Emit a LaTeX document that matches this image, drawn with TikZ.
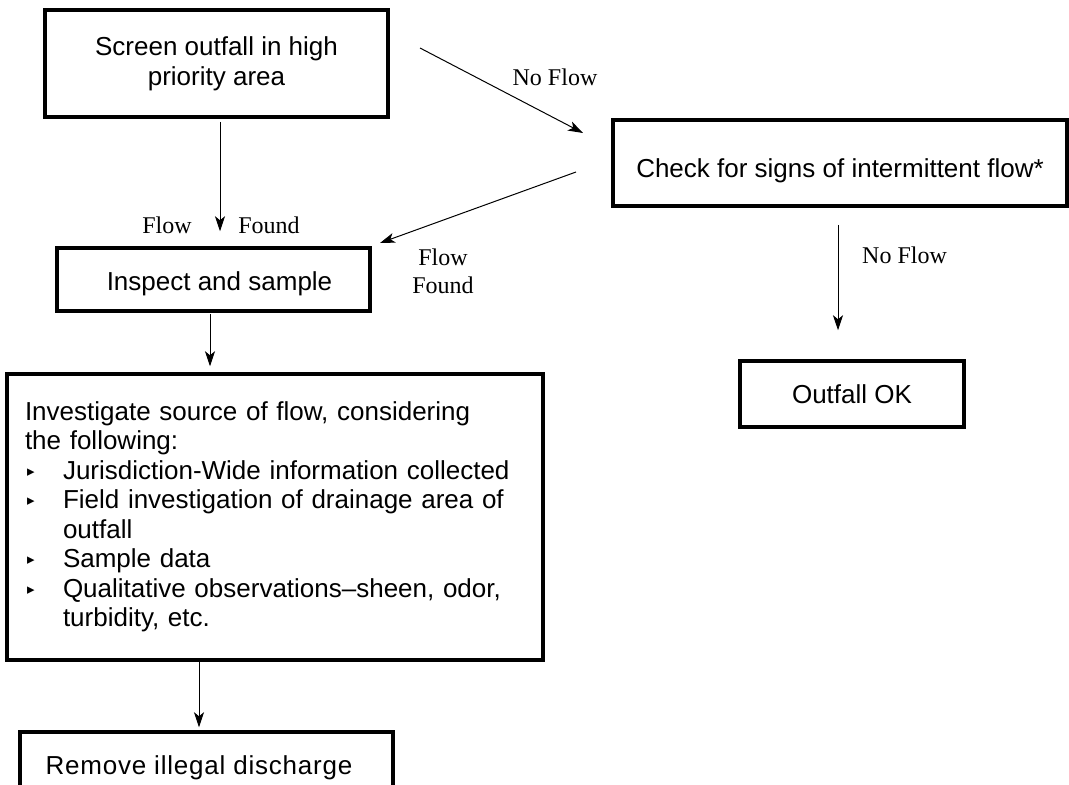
\documentclass[tikz,border=0pt]{standalone}
\usepackage{fontspec}
\setmainfont{Liberation Sans}
\newfontfamily\labelserif{Liberation Serif}
\newfontfamily\symfont{DejaVu Sans}
\usetikzlibrary{arrows.meta,calc}

\newcommand{\boxfont}{\fontsize{26}{30}\selectfont}
\newcommand{\flowfont}{\labelserif\fontsize{24}{28}\selectfont}
\newcommand{\tri}{\raisebox{3pt}{\symfont\fontsize{15}{15}\selectfont ▸}}
\newcommand{\bitem}{\par\noindent\makebox[38pt][l]{\hspace{2pt}\tri}}
\newcommand{\bnext}{\par\noindent\hspace*{38pt}}
\newcommand{\droptext}[1]{\raisebox{#1}[\height][\depth]}

\tikzset{
  stepbox/.style={draw, line width=3.5pt, font=\boxfont, align=center, inner sep=0pt},
  flowarrow/.style={-{Stealth[length=15pt,width=10pt,inset=4pt]}, line width=1pt},
  flowlabel/.style={font=\flowfont, align=center, inner sep=0pt}
}

\begin{document}
\begin{tikzpicture}[x=1pt, y=-1pt]
\useasboundingbox (0,0) rectangle (1069,785);

% boxes
\node[stepbox, minimum width=343, minimum height=107] (screen) at (216.5,63.5) {Screen outfall in high\\priority area};
\node[stepbox, minimum width=313, minimum height=63] (inspect) at (213.5,279.5) {\hspace*{12pt}\droptext{-4pt}{Inspect and sample}};
\node[stepbox, minimum width=454, minimum height=86] (check) at (840,163) {\droptext{-8pt}{Check for signs of intermittent flow*}};
\node[stepbox, minimum width=224, minimum height=66] (ok) at (852,394) {Outfall OK};
\node[stepbox, minimum width=536, minimum height=286, text width=500, align=left, font=\fontsize{26}{29.5}\selectfont] (investigate) at (275,517) {%
Investigate source of flow, considering
\par\noindent the following:
\bitem Jurisdiction-Wide information collected
\bitem Field investigation of drainage area of
\bnext outfall
\bitem Sample data
\bitem Qualitative observations–sheen, odor,
\bnext turbidity, etc.};
\node[stepbox, minimum width=373, minimum height=72] (remove) at (206.5,768) {\hspace*{-15pt}\addfontfeatures{LetterSpace=3}Remove illegal discharge};

% free ends of the slanted arrows
\coordinate (noflow a) at (420,48);
\coordinate (noflow b) at (583,133);
\coordinate (found a) at (576,172);
\coordinate (found b) at (380,243);
\coordinate (rm top) at ([xshift=-7.5pt]remove.north);

% connectors
\draw[flowarrow, shorten <=3pt, shorten >=15pt] ([xshift=3.5pt]screen.south) -- ([xshift=3.5pt]screen.south |- inspect.north);
\draw[flowarrow] (noflow a) -- (noflow b);
\draw[flowarrow] (found a) -- (found b);
\draw[flowarrow, shorten <=17pt, shorten >=29pt] ([xshift=-2pt]check.south) -- ([xshift=-2pt]check.south |- ok.north);
\draw[flowarrow, shorten <=1pt, shorten >=6pt] ([xshift=-3.5pt]inspect.south) -- ([xshift=-3.5pt]inspect.south |- investigate.north);
\draw[flowarrow, shorten >=3pt] (rm top |- investigate.south) -- (rm top);

% labels
\node[flowlabel] (lbl flow) at (167,225) {Flow};
\node[flowlabel] (lbl found) at (269,225) {Found};
\node[flowlabel] (lbl noflow) at (555,77) {No Flow};
\node[flowlabel] (lbl flowfound) at (443,271) {Flow\\Found};
\node[flowlabel, anchor=west] (lbl noflow2) at (862,255) {No Flow};
\end{tikzpicture}
\end{document}
